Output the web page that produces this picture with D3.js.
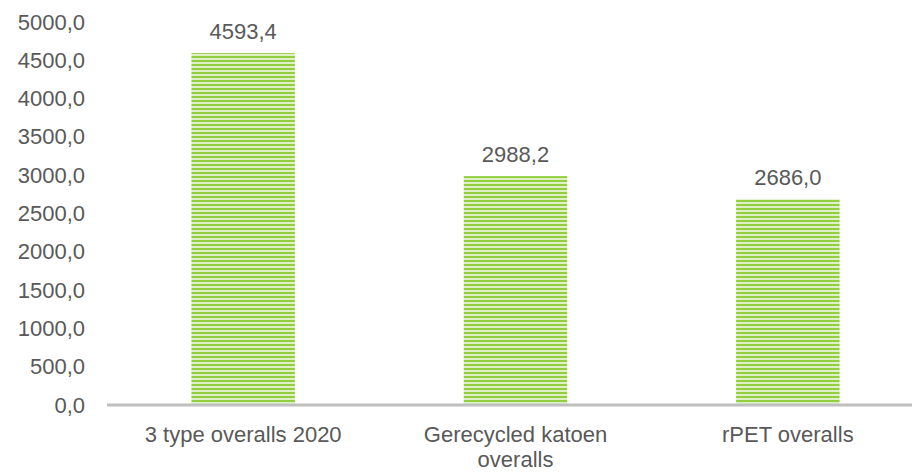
<!DOCTYPE html>
<html>
<head>
<meta charset="utf-8">
<script src="https://cdn.jsdelivr.net/npm/d3@7"></script>
<style>
  html, body { margin: 0; padding: 0; background: #fff; }
  svg { display: block; }
  text { font-family: "Liberation Sans", Arial, sans-serif; fill: #595959; }
</style>
</head>
<body>
<svg id="chart" width="912" height="473"></svg>
<script>
const categories = ["3 type overalls 2020", "Gerecycled katoen overalls", "rPET overalls"];
const values = [4593.4, 2988.2, 2686.0];
const yTicks = [0, 500, 1000, 1500, 2000, 2500, 3000, 3500, 4000, 4500, 5000];

const svg = d3.select("#chart");
const W = 912, H = 473;
const fontSize = 22;

const x = d3.scaleBand().domain(categories).range([107, 924]).paddingInner(0.62).paddingOuter(0.31);
const y = d3.scaleLinear().domain([0, 5000]).range([405, 22]);

const fmt = v => d3.format(".1f")(v).replace(".", ",");

// pattern for striped bars
const defs = svg.append("defs");
const pat = defs.append("pattern")
  .attr("id", "stripes").attr("patternUnits", "userSpaceOnUse")
  .attr("width", 8).attr("height", 4);
pat.append("rect").attr("width", 8).attr("height", 4).attr("fill", "#dff0c6");
pat.append("rect").attr("width", 8).attr("height", 2).attr("y", 0).attr("fill", "#92cf3e");

// y axis labels
const yAxis = d3.axisLeft(y).tickValues(yTicks).tickFormat(fmt).tickSize(0).tickPadding(0);
const gy = svg.append("g").attr("transform", "translate(85,0)").call(yAxis);
gy.select(".domain").remove();
gy.selectAll("text").style("font-size", fontSize + "px").attr("fill", "#595959")
  .style("font-family", '"Liberation Sans", Arial, sans-serif');

// bars
svg.append("g").selectAll("rect").data(values).join("rect")
  .attr("x", (d, i) => x(categories[i]))
  .attr("width", x.bandwidth())
  .attr("y", d => y(d))
  .attr("height", d => y(0) - y(d))
  .attr("fill", "url(#stripes)");

// value labels
svg.append("g").selectAll("text").data(values).join("text")
  .attr("x", (d, i) => x(categories[i]) + x.bandwidth() / 2)
  .attr("y", d => y(d) - 14)
  .attr("text-anchor", "middle")
  .style("font-size", fontSize + "px")
  .text(d => fmt(d));

// x axis
const xAxis = d3.axisBottom(x).tickSize(0).tickPadding(0);
const gx = svg.append("g").attr("transform", `translate(0,${y(0)})`).call(xAxis);
gx.select(".domain").remove();
gx.selectAll("text").remove();
svg.append("line")
  .attr("x1", 107).attr("x2", W)
  .attr("y1", y(0)).attr("y2", y(0))
  .attr("stroke", "#bfbfbf").attr("stroke-width", 3);

// category labels with wrapping
const maxW = 230;
categories.forEach(c => {
  const cx = x(c) + x.bandwidth() / 2;
  const t = svg.append("text").attr("text-anchor", "middle").style("font-size", fontSize + "px");
  const words = c.split(" ");
  let line = [];
  let lineNo = 0;
  let tspan = t.append("tspan").attr("x", cx).attr("y", 442);
  words.forEach(w => {
    line.push(w);
    tspan.text(line.join(" "));
    if (tspan.node().getComputedTextLength() > maxW && line.length > 1) {
      line.pop();
      tspan.text(line.join(" "));
      line = [w];
      lineNo++;
      tspan = t.append("tspan").attr("x", cx).attr("y", 442 + lineNo * 25).text(w);
    }
  });
});
</script>
</body>
</html>
